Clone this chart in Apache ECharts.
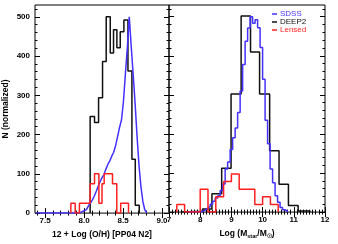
<!DOCTYPE html>
<html><head><meta charset="utf-8">
<script src="https://cdn.jsdelivr.net/npm/echarts@6/dist/echarts.min.js"></script>
<style>html,body{margin:0;padding:0;background:#fff}#c{width:338px;height:244px}</style>
</head><body><div id="c"></div>
<script>
// ---- data: left panel, 12 + Log(O/H) ----
const ohSdssEdges = [7.38, 7.930, 7.955, 7.980, 8.005, 8.030, 8.055, 8.080, 8.105, 8.130, 8.155, 8.180, 8.205, 8.230, 8.255, 8.280, 8.305, 8.330, 8.355, 8.380, 8.405, 8.430, 8.455, 8.480, 8.505, 8.530, 8.555, 8.580, 8.605, 8.630, 8.655, 8.680, 8.705, 8.730, 8.755, 8.780, 8.805];
const ohSdssCounts = [0, 2, 4, 6, 9, 13, 18, 25, 33, 43, 55, 68, 80, 90, 98, 112, 124, 133, 145, 155, 172, 195, 218, 237, 283, 354, 421, 500, 425, 354, 279, 196, 121, 67, 29, 8];
const ohDeepEdges = [8.078, 8.134, 8.186, 8.237, 8.284, 8.336, 8.378, 8.421, 8.464, 8.511, 8.563, 8.614, 8.657, 8.708];
const ohDeepCounts = [246, 231, 294, 386, 500, 408, 467, 421, 462, 492, 362, 137, 20];
const ohLensEdges = [7.83, 7.886, 7.94, 8.078, 8.134, 8.19, 8.23, 8.258, 8.365, 8.42, 8.47, 8.57];
const ohLensCounts = [25, 0, 25, 75, 100, 25, 75, 100, 75, 0, 25];

// ---- data: right panel, Log(Mstar/Msun) ----
const mSdssEdges = [7.6, 8.00, 8.08, 8.16, 8.24, 8.32, 8.40, 8.48, 8.56, 8.64, 8.72, 8.80, 8.88, 8.96, 9.04, 9.12, 9.20, 9.28, 9.36, 9.44, 9.52, 9.60, 9.68, 9.76, 9.84, 9.92, 10.00, 10.08, 10.16, 10.24, 10.32, 10.40, 10.48, 10.56, 10.64, 10.72, 10.80];
const mSdssCounts = [1, 2, 5, 10, 14, 20, 28, 36, 42, 55, 72, 110, 128, 160, 190, 215, 255, 310, 378, 437, 471, 500, 483, 492, 472, 421, 340, 235, 175, 110, 75, 42, 25, 12, 6, 2];
const mDeepEdges = [7.4, 8.075, 8.376, 8.688, 8.989, 9.312, 9.613, 9.903, 10.226, 10.527, 10.828, 11.14, 11.52];
const mDeepCounts = [2, 8, 47, 112, 302, 502, 410, 302, 157, 71, 17, 3];
const mLensEdges = [7.25, 7.5, 8.0, 8.25, 8.5, 8.75, 9.0, 9.25, 9.75, 10.0, 10.25, 10.5];
const mLensCounts = [19.5, 0, 58.5, 0, 39, 78, 97.5, 58.5, 19.5, 39, 19.5];

// ---- axes ----
const ohRange = [7.37, 9.09];
const mRange = [7, 12];
const yRange = [0, 530];
const ohMajorTicks = [7.5, 8.0, 8.5, 9.0];
const ohTickLabels = ['7.5', '8.0', '8.5', '9.0'];
const ohMinorTicks = [7.4, 7.6, 7.7, 7.8, 7.9, 8.1, 8.2, 8.3, 8.4, 8.6, 8.7, 8.8, 8.9, 9.0];
const mMajorTicks = [7, 8, 9, 10, 11, 12];
const mTickLabels = ['7', '8', '9', '10', '11', '12'];
const mMinorTicks = [7.1,7.2,7.3,7.4,7.5,7.6,7.7,7.8,7.9,8.1,8.2,8.3,8.4,8.5,8.6,8.7,8.8,8.9,9.1,9.2,9.3,9.4,9.5,9.6,9.7,9.8,9.9,10.1,10.2,10.3,10.4,10.5,10.6,10.7,10.8,10.9,11.1,11.2,11.3,11.4,11.5,11.6,11.7,11.8,11.9];
const yMajorTicks = [0, 100, 200, 300, 400, 500];
const yTickLabels = ['0', '100', '200', '300', '400', '500'];
const yMinorTicks = [20,40,60,80,120,140,160,180,220,240,260,280,320,340,360,380,420,440,460,480,520];

const BLUE = '#4431ff', BLACK = '#111111', RED = '#ff1f1f';
const FONT = '"Liberation Sans", Arial, sans-serif';

function hist(edges, counts) {
  const pts = [[edges[0], 0]];
  for (let i = 0; i < counts.length; i++) pts.push([edges[i], counts[i]]);
  pts.push([edges[edges.length - 1], 0]);
  return pts;
}
function fmt(ticks, labels) {
  return v => { const i = ticks.findIndex(t => Math.abs(t - v) < 1e-6); return i >= 0 ? labels[i] : ''; };
}

const lab = { fontFamily: FONT, fontSize: 8, fontWeight: 'bold', color: '#000' };

function xAx(grid, range, ticks, pos, len, labels, extra) {
  return Object.assign({
    type: 'value', gridIndex: grid, min: range[0], max: range[1], position: pos,
    axisLine: { show: false }, splitLine: { show: false },
    axisTick: { show: true, inside: true, length: len, customValues: ticks, lineStyle: { color: '#000', width: 1 } },
    axisLabel: labels ? Object.assign({ show: true, margin: 4, customValues: ticks, formatter: fmt(ticks, labels),
      showMinLabel: true, showMaxLabel: true, hideOverlap: false }, lab) : { show: false }
  }, extra || {});
}
function yAx(grid, pos, ticks, len, labels, extra) {
  return Object.assign({
    type: 'value', gridIndex: grid, min: yRange[0], max: yRange[1], position: pos,
    axisLine: { show: false }, splitLine: { show: false },
    axisTick: { show: true, inside: true, length: len, customValues: ticks, lineStyle: { color: '#000', width: 1 } },
    axisLabel: labels ? Object.assign({ show: true, margin: 5, customValues: ticks, formatter: fmt(ticks, labels) }, lab) : { show: false }
  }, extra || {});
}

const chart = echarts.init(document.getElementById('c'), null, { renderer: 'canvas' });
const lineSer = (name, color, xi, yi, data, z) => ({
  type: 'line', name: name, step: 'end', xAxisIndex: xi, yAxisIndex: yi, data: data,
  showSymbol: false, symbol: 'none', lineStyle: { color: color, width: 1.5 }, itemStyle: { color: color },
  animation: false, z: z
});

chart.setOption({
  animation: false,
  grid: [
    { left: 35, top: 5, width: 134, height: 212, show: true, borderColor: '#000', borderWidth: 1 },
    { left: 169, top: 5, width: 156, height: 212, show: true, borderColor: '#000', borderWidth: 1 }
  ],
  xAxis: [
    xAx(0, ohRange, ohMajorTicks, 'bottom', 5, ohTickLabels, {
      name: '12 + Log (O/H) [PP04 N2]', nameLocation: 'middle', nameGap: 14,
      nameTextStyle: { fontFamily: FONT, fontSize: 8.5, fontWeight: 'bold', color: '#000' }
    }),
    xAx(0, ohRange, ohMinorTicks, 'bottom', 2.5, null),
    xAx(0, ohRange, ohMajorTicks, 'top', 5, null),
    xAx(0, ohRange, ohMinorTicks, 'top', 2.5, null),
    xAx(1, mRange, mMajorTicks, 'bottom', 5, mTickLabels, {
      name: 'Log (M{s|star}/M{s|\u2609})', nameLocation: 'middle', nameGap: 14,
      nameTextStyle: { fontFamily: FONT, fontSize: 8.5, fontWeight: 'bold', color: '#000',
        rich: { s: { fontFamily: FONT, fontSize: 5.5, fontWeight: 'bold', color: '#000', padding: [5, 0, 0, 0] } } }
    }),
    xAx(1, mRange, mMinorTicks, 'bottom', 2.5, null),
    xAx(1, mRange, mMajorTicks, 'top', 5, null),
    xAx(1, mRange, mMinorTicks, 'top', 2.5, null)
  ],
  yAxis: [
    yAx(0, 'left', yMajorTicks, 5, yTickLabels, {
      name: 'N (normalized)', nameLocation: 'middle', nameGap: 25,
      nameTextStyle: { fontFamily: FONT, fontSize: 8.5, fontWeight: 'bold', color: '#000' }
    }),
    yAx(0, 'left', yMinorTicks, 2.5, null),
    yAx(0, 'right', yMajorTicks, 5, null),
    yAx(0, 'right', yMinorTicks, 2.5, null),
    yAx(1, 'left', yMajorTicks, 5, null),
    yAx(1, 'left', yMinorTicks, 2.5, null),
    yAx(1, 'right', yMajorTicks, 5, null),
    yAx(1, 'right', yMinorTicks, 2.5, null)
  ],
  legend: {
    orient: 'vertical', left: 272, top: 10, padding: 0, itemGap: 0,
    itemWidth: 5, itemHeight: 1.5, icon: 'rect',
    textStyle: { fontFamily: FONT, fontSize: 8, lineHeight: 8, padding: [0, 0, 0, -2] },
    data: [
      { name: 'SDSS', textStyle: { color: BLUE } },
      { name: 'DEEP2', textStyle: { color: BLACK } },
      { name: 'Lensed', textStyle: { color: RED } }
    ]
  },
  series: [
    lineSer('DEEP2', BLACK, 0, 0, hist(ohDeepEdges, ohDeepCounts), 2),
    lineSer('SDSS', BLUE, 0, 0, hist(ohSdssEdges, ohSdssCounts), 3),
    lineSer('Lensed', RED, 0, 0, hist(ohLensEdges, ohLensCounts), 4),
    lineSer('DEEP2', BLACK, 4, 4, hist(mDeepEdges, mDeepCounts), 2),
    lineSer('SDSS', BLUE, 4, 4, hist(mSdssEdges, mSdssCounts), 3),
    lineSer('Lensed', RED, 4, 4, hist(mLensEdges, mLensCounts), 4)
  ]
});
</script>
</body></html>
